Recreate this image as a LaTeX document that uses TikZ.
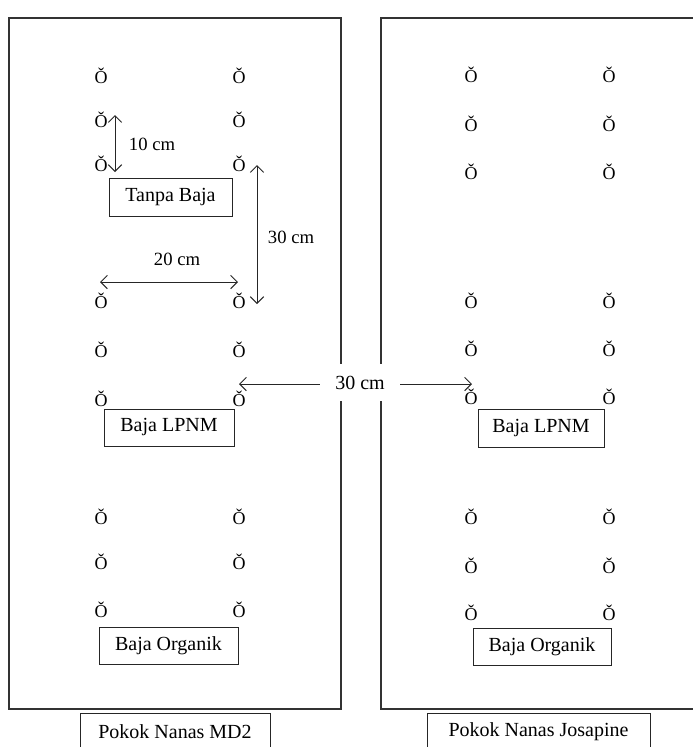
\documentclass[tikz,border=0pt]{standalone}
\usepackage{fontspec}
\setmainfont{Liberation Serif}
\usetikzlibrary{arrows.meta}
\begin{document}
\begin{tikzpicture}[x=0.75pt,y=-0.75pt,
  plot/.style={draw=black!80,line width=0.8pt},
  plant/.style={inner sep=0pt,font=\fontsize{13.5}{14}\selectfont},
  tag/.style={draw=black!85,line width=0.75pt,inner sep=0pt,font=\fontsize{15}{16}\selectfont},
  dim/.style={inner sep=0pt,font=\fontsize{14}{15}\selectfont},
  arr/.style={draw=black!85,line width=0.75pt,{Straight Barb[length=5pt,width=10pt]}-{Straight Barb[length=5pt,width=10pt]}}]
\useasboundingbox (0,0) rectangle (693,747);
% plots
\draw[plot] (9,18) rectangle (341,709);
\draw[plot] (381,18) rectangle (705,709);
% plants left
\foreach \r/\y in {1/76,2/120,3/164,4/301,5/350,6/399,7/517,8/562,9/610}{
  \node[plant] (La\r) at (101,\y) {Ǒ};
  \node[plant] (Lb\r) at (239,\y) {Ǒ};
}
% plants right
\foreach \r/\y in {1/75,2/124,3/172,4/301,5/349,6/397,7/517,8/566,9/613}{
  \node[plant] (Ra\r) at (471,\y) {Ǒ};
  \node[plant] (Rb\r) at (609,\y) {Ǒ};
}
% treatment boxes
\node[tag,minimum width={123*0.75pt},minimum height={38*0.75pt}] (tb) at (170.5,197) {Tanpa Baja};
\node[tag,minimum width={130*0.75pt},minimum height={37*0.75pt}] (lpL) at (169,427.5) {Baja LPNM};
\node[tag,minimum width={139*0.75pt},minimum height={37*0.75pt}] (orL) at (168.5,645.5) {Baja Organik};
\node[tag,minimum width={126*0.75pt},minimum height={38*0.75pt}] (lpR) at (541,428) {Baja LPNM};
\node[tag,minimum width={138*0.75pt},minimum height={37*0.75pt}] (orR) at (542,646.5) {Baja Organik};
\node[tag,minimum width={190*0.75pt},minimum height={38*0.75pt}] (md2) at (175,732) {Pokok Nanas MD2};
\node[tag,minimum width={223*0.75pt},minimum height={38*0.75pt}] (jos) at (538.5,732) {Pokok Nanas Josapine};
% dimension arrows
\coordinate (d10t) at (115,115);
\coordinate (d10b) at (115,172);
\draw[arr] (d10t) -- (d10b);
\node[dim] (l10) at (152,144) {10 cm};
\coordinate (d30t) at (257,165);
\coordinate (d30b) at (257,304);
\draw[arr] (d30t) -- (d30b);
\node[dim] (l30) at (291,237) {30 cm};
\coordinate (d20l) at (100,282);
\coordinate (d20r) at (238,282);
\draw[arr] (d20l) -- (d20r);
\node[dim] (l20) at (177,259) {20 cm};
\coordinate (dml) at (239,384);
\coordinate (dmr) at (472,384);
\draw[arr] (dml) -- (dmr);
\node[fill=white,inner sep=0pt,minimum width={80*0.75pt},minimum height={37*0.75pt},font=\fontsize{15}{16}\selectfont] (lm) at (360,382.5) {30 cm};
\end{tikzpicture}
\end{document}
